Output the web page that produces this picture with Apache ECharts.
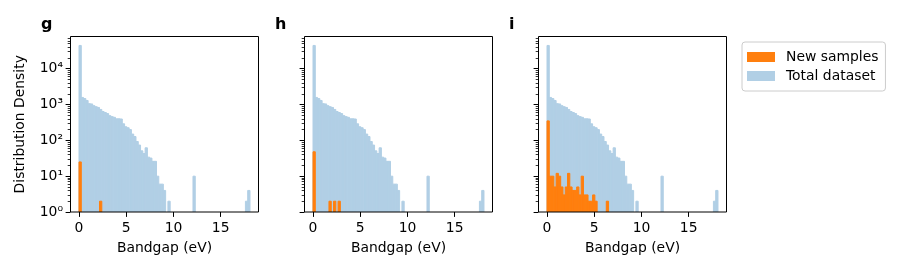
<!DOCTYPE html>
<html><head><meta charset="utf-8">
<script src="https://cdn.jsdelivr.net/npm/echarts@6/dist/echarts.min.js"></script>
<style>html,body{margin:0;padding:0;background:#fff}#c{width:900px;height:270px}</style>
</head><body><div id="c"></div>
<script>
// ---- data ----
const binWidth = 0.2413;           // histogram bin width (eV), bins start at 0
const totalCounts = [
  44700,1580,1470,1300,1060,1040,930,870,830,730,
  640,600,560,490,460,440,400,400,395,290,
  240,225,200,150,128,93,74,51,43,62,
  34,32,26,26,10,6,6,4,0,2,
  0,0,0,0,0,0,0,0,0,0,
  10,0,0,0,0,0,0,0,0,0,
  0,0,0,0,0,0,0,0,0,0,
  0,0,0,2,4
];
const newG = [25,0,0,0,0,0,0,0,0,2];
const newH = [48,0,0,0,0,0,0,2,0,2,0,2];
const newI = [350,10,10,5,12,10,5,3,5,12,5,4,4,5,3,10,3,3,2,2,3,2,0,0,0,0,2];
const panelLetters = ['g','h','i'];
const newSets = [newG, newH, newI];
const xTicks = [0,5,10,15];
const yMajor = [1,10,100,1000,10000];
const yLabels = ['10⁰','10¹','10²','10³','10⁴'];
const yMinor = [2,3,4,5,6,7,8,9,20,30,40,50,60,70,80,90,200,300,400,500,600,700,800,900,
  2000,3000,4000,5000,6000,7000,8000,9000,20000,30000,40000,50000,60000,70000];
const seriesNames = ['New samples','Total dataset'];
const colors = {new:'#ff7f0e', total:'#b1cfe5'};

// ---- layout ----
const FONT = 'DejaVu Sans';
const lefts = [70.5, 304.5, 538.5];
const gw = 188, gtop = 36.5, gh = 175.5;
const xMin = -0.9, xMax = 19.0, yMin = 1, yMax = 79433;

function toBins(counts){
  const out = [];
  counts.forEach((c,k)=>{ if(c>0) out.push([k*binWidth,(k+1)*binWidth,c]); });
  return out;
}
function render(color){
  return function(params, api){
    const p0 = api.coord([api.value(0), api.value(2)]);
    const p1 = api.coord([api.value(1), yMin]);
    return {type:'rect', shape:{x:p0[0], y:p0[1], width:p1[0]-p0[0], height:p1[1]-p0[1]},
            style:{fill:color, stroke:color, lineWidth:1}};
  };
}
const grid=[], xAxis=[], yAxis=[], series=[], graphic=[];
lefts.forEach((l,i)=>{
  grid.push({left:l, top:gtop, width:gw, height:gh, show:true, borderColor:'#000', borderWidth:1,
             backgroundColor:'transparent', containLabel:false, outerBoundsMode:'none', z:10});
  xAxis.push({type:'value', gridIndex:i, min:xMin, max:xMax,
    splitLine:{show:false}, axisLine:{show:false, onZero:false},
    axisTick:{show:true, length:4.9, lineStyle:{color:'#000', width:1}, customValues:xTicks},
    axisLabel:{customValues:xTicks, margin:9.5, fontSize:13.9, color:'#000', fontFamily:FONT},
    name:'Bandgap (eV)', nameLocation:'middle', nameGap:29,
    nameTextStyle:{fontSize:13.9, color:'#000', fontFamily:FONT}});
  yAxis.push({type:'log', logBase:10, gridIndex:i, position:'left', min:yMin, max:yMax,
    splitLine:{show:false}, axisLine:{show:false, onZero:false},
    axisTick:{show:true, length:4.9, lineStyle:{color:'#000', width:1}, customValues:yMajor},
    axisLabel:{show:i===0, customValues:yMajor, margin:7.5, fontSize:13.9, color:'#000', fontFamily:FONT,
      formatter:(v)=>yLabels[Math.round(Math.log10(v))]},
    name: i===0 ? 'Distribution Density' : '', nameLocation:'middle', nameGap:43,
    nameTextStyle:{fontSize:13.9, color:'#000', fontFamily:FONT}});
  yAxis.push({type:'log', logBase:10, gridIndex:i, position:'left', offset:0, min:yMin, max:yMax,
    splitLine:{show:false}, axisLine:{show:false, onZero:false},
    axisTick:{show:true, length:2.8, lineStyle:{color:'#000', width:0.8}, customValues:yMinor},
    axisLabel:{show:false}});
  series.push({type:'custom', name:seriesNames[1], xAxisIndex:i, yAxisIndex:2*i, clip:true,
    itemStyle:{color:colors.total}, renderItem:render(colors.total),
    encode:{x:[0,1], y:2}, data:toBins(totalCounts), z:2});
  series.push({type:'custom', name:seriesNames[0], xAxisIndex:i, yAxisIndex:2*i, clip:true,
    itemStyle:{color:colors.new}, renderItem:render(colors.new),
    encode:{x:[0,1], y:2}, data:toBins(newSets[i]), z:3});
  graphic.push({type:'text', left:l-29.5, top:17,
    style:{text:panelLetters[i], font:'bold 16px "DejaVu Sans"', fill:'#000'}});
});

const chart = echarts.init(document.getElementById('c'), null, {renderer:'canvas'});
chart.setOption({
  animation:false, backgroundColor:'#fff',
  grid, xAxis, yAxis, series, graphic,
  legend:{left:742, top:42, orient:'vertical', itemWidth:28, itemHeight:10, itemGap:5,
    padding:[8,7,8,5], backgroundColor:'rgba(255,255,255,0.8)', borderColor:'#cccccc',
    borderWidth:1, borderRadius:3, selectedMode:false,
    textStyle:{fontSize:13.9, color:'#000', fontFamily:FONT, padding:[0,0,0,6]},
    data:[{name:seriesNames[0], icon:'rect'},{name:seriesNames[1], icon:'rect'}]}
});
</script></body></html>
